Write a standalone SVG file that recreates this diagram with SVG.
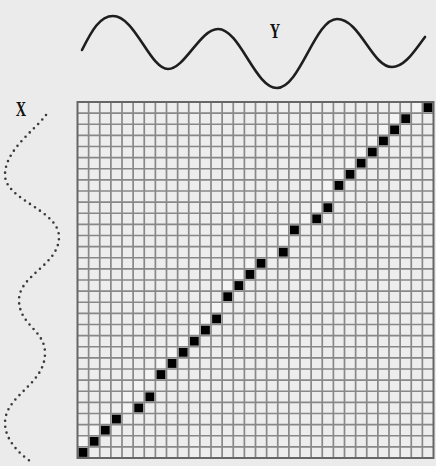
<svg xmlns="http://www.w3.org/2000/svg" width="436" height="466" viewBox="0 0 436 466">
<style>
.bg{fill:#ebebeb}
.grid{fill:none;stroke:#888;stroke-width:1.7}
.border{fill:none;stroke:#666;stroke-width:2}
.on{fill:#000}
.lite{fill:#f4f4f4}
.wave{fill:none;stroke:#1e1e1e;stroke-width:2.6;stroke-linecap:round;stroke-linejoin:round}
.dots{fill:none;stroke:#3a3a3a;stroke-width:2.6;stroke-linecap:round;stroke-dasharray:0 6}
.lbl{font-family:"Liberation Serif",serif;font-size:20px;font-weight:bold;fill:#111}
</style>
<rect class="bg" x="0" y="0" width="436" height="466"/>
<g id="matrix">
<rect x="77.5" y="102" width="356" height="356" fill="#ededed"/>
<g transform="translate(77.5,102) scale(11.125)">
<g class="lite">
<rect x="0" y="30" width="1" height="1"/><rect x="1" y="29" width="1" height="1"/><rect x="2" y="28" width="1" height="1"/><rect x="4" y="27" width="1" height="1"/><rect x="4" y="26" width="1" height="1"/><rect x="5" y="25" width="1" height="1"/><rect x="6" y="24" width="1" height="1"/><rect x="7" y="23" width="1" height="1"/><rect x="8" y="22" width="1" height="1"/><rect x="9" y="21" width="1" height="1"/><rect x="10" y="20" width="1" height="1"/><rect x="11" y="19" width="1" height="1"/><rect x="12" y="18" width="1" height="1"/><rect x="13" y="16" width="1" height="1"/><rect x="14" y="15" width="1" height="1"/><rect x="15" y="14" width="1" height="1"/><rect x="17" y="13" width="1" height="1"/><rect x="18" y="12" width="1" height="1"/><rect x="18" y="11" width="1" height="1"/><rect x="20" y="10" width="1" height="1"/><rect x="21" y="9" width="1" height="1"/><rect x="22" y="8" width="1" height="1"/><rect x="22" y="7" width="1" height="1"/><rect x="23" y="6" width="1" height="1"/><rect x="24" y="5" width="1" height="1"/><rect x="25" y="4" width="1" height="1"/><rect x="26" y="3" width="1" height="1"/><rect x="27" y="2" width="1" height="1"/><rect x="28" y="1" width="1" height="1"/><rect x="30" y="0" width="1" height="1"/>
</g>
</g>
<path class="grid" d="M88.625,102V458M99.75,102V458M110.875,102V458M122,102V458M133.125,102V458M144.25,102V458M155.375,102V458M166.5,102V458M177.625,102V458M188.75,102V458M199.875,102V458M211,102V458M222.125,102V458M233.25,102V458M244.375,102V458M255.5,102V458M266.625,102V458M277.75,102V458M288.875,102V458M300,102V458M311.125,102V458M322.25,102V458M333.375,102V458M344.5,102V458M355.625,102V458M366.75,102V458M377.875,102V458M389,102V458M400.125,102V458M411.25,102V458M422.375,102V458
M77.5,113.125H433.5M77.5,124.25H433.5M77.5,135.375H433.5M77.5,146.5H433.5M77.5,157.625H433.5M77.5,168.75H433.5M77.5,179.875H433.5M77.5,191H433.5M77.5,202.125H433.5M77.5,213.25H433.5M77.5,224.375H433.5M77.5,235.5H433.5M77.5,246.625H433.5M77.5,257.75H433.5M77.5,268.875H433.5M77.5,280H433.5M77.5,291.125H433.5M77.5,302.25H433.5M77.5,313.375H433.5M77.5,324.5H433.5M77.5,335.625H433.5M77.5,346.75H433.5M77.5,357.875H433.5M77.5,369H433.5M77.5,380.125H433.5M77.5,391.25H433.5M77.5,402.375H433.5M77.5,413.5H433.5M77.5,424.625H433.5M77.5,435.75H433.5M77.5,446.875H433.5"/>
<rect class="border" x="77.5" y="102" width="356" height="356"/>
<g class="on" transform="translate(77.5,102) scale(11.125)">
<rect x="0.1" y="31.1" width="0.8" height="0.8"/><rect x="1.1" y="30.1" width="0.8" height="0.8"/><rect x="2.1" y="29.1" width="0.8" height="0.8"/><rect x="3.1" y="28.1" width="0.8" height="0.8"/><rect x="5.1" y="27.1" width="0.8" height="0.8"/><rect x="6.1" y="26.1" width="0.8" height="0.8"/><rect x="7.1" y="24.1" width="0.8" height="0.8"/><rect x="8.1" y="23.1" width="0.8" height="0.8"/><rect x="9.1" y="22.1" width="0.8" height="0.8"/><rect x="10.1" y="21.1" width="0.8" height="0.8"/><rect x="11.1" y="20.1" width="0.8" height="0.8"/><rect x="12.1" y="19.1" width="0.8" height="0.8"/><rect x="13.1" y="17.1" width="0.8" height="0.8"/><rect x="14.1" y="16.1" width="0.8" height="0.8"/><rect x="15.1" y="15.1" width="0.8" height="0.8"/><rect x="16.1" y="14.1" width="0.8" height="0.8"/><rect x="18.1" y="13.1" width="0.8" height="0.8"/><rect x="19.1" y="11.1" width="0.8" height="0.8"/><rect x="21.1" y="10.1" width="0.8" height="0.8"/><rect x="22.1" y="9.1" width="0.8" height="0.8"/><rect x="23.1" y="7.1" width="0.8" height="0.8"/><rect x="24.1" y="6.1" width="0.8" height="0.8"/><rect x="25.1" y="5.1" width="0.8" height="0.8"/><rect x="26.1" y="4.1" width="0.8" height="0.8"/><rect x="27.1" y="3.1" width="0.8" height="0.8"/><rect x="28.1" y="2.1" width="0.8" height="0.8"/><rect x="29.1" y="1.1" width="0.8" height="0.8"/><rect x="31.1" y="0.1" width="0.8" height="0.8"/>
</g>
</g>
<g id="signal-y">
<path class="wave" d="M82,50 C92,30 100,16 113,16 C135,16 150,69 168,69 C185,69 200,29 218,29 C240,29 255,88 277,88 C300,88 315,19 337,19 C360,19 372,67 392,67 C405,67 415,50 425,37"/>
<text class="lbl" transform="translate(275,38) scale(0.72,1)" text-anchor="middle">Y</text>
</g>
<g id="signal-x">
<path class="dots" d="M46,115 C35,130 5,150 5,175 C5,200 59,210 59,237 C59,265 19,275 19,300 C19,325 45,330 45,353 C45,385 5,395 5,423 C5,440 20,455 33,463"/>
<text class="lbl" transform="translate(21,116) scale(0.72,1)" text-anchor="middle">X</text>
</g>
</svg>
